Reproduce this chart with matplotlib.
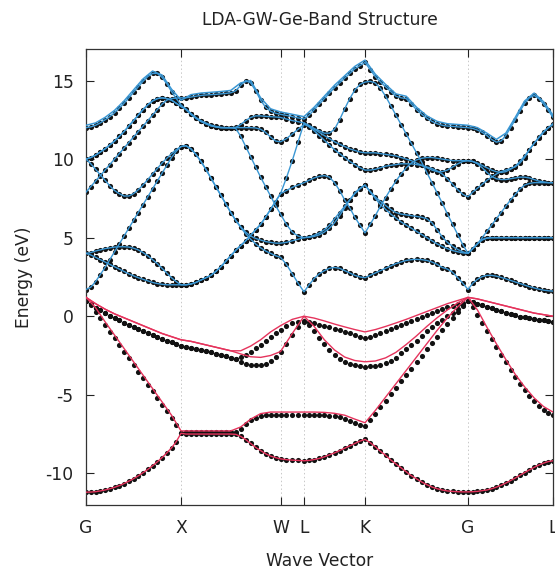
import numpy as np
import matplotlib
matplotlib.use('Agg')
import matplotlib.pyplot as plt

# high-symmetry points along the path and number of k steps per segment
labels = ['G', 'X', 'W', 'L', 'K', 'G', 'L']
kpos = [0.0, 0.95, 1.945, 2.18, 2.79, 3.82, 4.67]
nseg = [20, 20, 4, 12, 20, 18]

k = [0.0]
for a, b, n in zip(kpos[:-1], kpos[1:], nseg):
    k += list(np.linspace(a, b, n + 1)[1:])
k = np.array(k)
kc = k[::2]   # coarser grid used for some GW lines

# ---- LDA valence bands (eV), segments G-X | X-W | W-L | L-K | K-G | G-L ----
v1 = [-11.20, -11.19, -11.17, -11.12, -11.06, -10.98, -10.89, -10.78, -10.65, -10.50, -10.34,
      -10.16, -9.96, -9.75, -9.52, -9.27, -9.00, -8.70, -8.38, -7.98, -7.45,
      -7.50, -7.50, -7.50, -7.50, -7.50, -7.50, -7.50, -7.50, -7.50, -7.50,
      -7.52, -7.65, -7.85, -8.10, -8.35, -8.55, -8.75, -8.90, -9.00, -9.08,
      -9.13, -9.16, -9.18, -9.20,
      -9.18, -9.12, -9.05, -8.95, -8.82, -8.70, -8.55, -8.40, -8.25, -8.10, -7.95, -7.84,
      -8.05, -8.30, -8.60, -8.85, -9.15, -9.40, -9.65, -9.90, -10.15, -10.35,
      -10.55, -10.72, -10.87, -10.98, -11.06, -11.12, -11.15, -11.17, -11.18, -11.18,
      -11.17, -11.15, -11.10, -11.06, -10.98, -10.88, -10.76, -10.62, -10.46,
      -10.30, -10.12, -9.95, -9.78, -9.62, -9.47, -9.35, -9.25, -9.20]
v2 = [0.95, 0.70, 0.30, -0.12, -0.55, -0.98, -1.40, -1.83, -2.25, -2.67, -3.10,
      -3.52, -3.94, -4.36, -4.78, -5.20, -5.62, -6.04, -6.46, -6.90, -7.42,
      -7.38, -7.38, -7.38, -7.38, -7.38, -7.38, -7.38, -7.38, -7.38, -7.38,
      -7.38, -7.15, -6.85, -6.60, -6.45, -6.35, -6.30, -6.28, -6.27, -6.27,
      -6.27, -6.27, -6.28, -6.28,
      -6.28, -6.28, -6.30, -6.30, -6.32, -6.35, -6.42, -6.52, -6.65, -6.80, -6.92, -7.00,
      -6.60, -6.20, -5.78, -5.38, -4.95, -4.55, -4.15, -3.75, -3.33, -2.93,
      -2.53, -2.10, -1.70, -1.30, -0.90, -0.50, -0.12, 0.25, 0.62, 0.95,
      0.60, 0.10, -0.45, -0.95, -1.45, -1.95, -2.45, -2.90, -3.40,
      -3.85, -4.30, -4.70, -5.05, -5.40, -5.70, -5.95, -6.15, -6.28]
v3 = [0.95, 0.75, 0.55, 0.37, 0.20, 0.03, -0.12, -0.27, -0.41, -0.55, -0.68,
      -0.81, -0.93, -1.05, -1.17, -1.30, -1.42, -1.55, -1.67, -1.78, -1.90,
      -1.95, -2.00, -2.07, -2.15, -2.22, -2.30, -2.38, -2.47, -2.56, -2.65,
      -2.74, -2.90, -3.02, -3.10, -3.12, -3.10, -3.02, -2.85, -2.60, -2.30,
      -1.80, -1.20, -0.70, -0.35,
      -0.55, -0.95, -1.40, -1.80, -2.15, -2.45, -2.72, -2.90, -3.03, -3.12, -3.18, -3.22,
      -3.20, -3.17, -3.10, -3.00, -2.85, -2.65, -2.35, -2.10, -1.83, -1.55,
      -1.25, -0.95, -0.70, -0.45, -0.22, 0.00, 0.22, 0.45, 0.70, 0.95,
      0.88, 0.80, 0.70, 0.60, 0.50, 0.41, 0.32, 0.23, 0.14,
      0.06, -0.02, -0.08, -0.13, -0.18, -0.23, -0.27, -0.31, -0.35]
v4 = [0.95, 0.75, 0.55, 0.37, 0.20, 0.03, -0.12, -0.27, -0.41, -0.55, -0.68,
      -0.81, -0.93, -1.05, -1.17, -1.30, -1.42, -1.55, -1.67, -1.78, -1.90,
      -1.95, -2.00, -2.07, -2.15, -2.22, -2.30, -2.38, -2.47, -2.56, -2.65,
      -2.74, -2.62, -2.45, -2.25, -2.05, -1.85, -1.60, -1.35, -1.10, -0.87,
      -0.62, -0.45, -0.36, -0.33,
      -0.38, -0.45, -0.53, -0.62, -0.71, -0.80, -0.90, -1.00, -1.10, -1.20, -1.30, -1.40,
      -1.30, -1.20, -1.08, -0.96, -0.83, -0.70, -0.57, -0.44, -0.30, -0.17,
      -0.04, 0.09, 0.22, 0.34, 0.46, 0.57, 0.67, 0.77, 0.86, 0.95,
      0.88, 0.80, 0.70, 0.60, 0.50, 0.41, 0.32, 0.23, 0.14,
      0.06, -0.02, -0.08, -0.13, -0.18, -0.23, -0.27, -0.31, -0.35]

# ---- GW valence bands (red lines), coarse grid ----
gw2 = [1.20, 0.55, -0.35, -1.20, -2.05, -2.90, -3.75, -4.60, -5.45, -6.30, -7.30,
       -7.30, -7.30, -7.30, -7.30, -7.30, -7.05, -6.55, -6.20, -6.10, -6.10,
       -6.10, -6.10,
       -6.10, -6.12, -6.18, -6.30, -6.55, -6.78,
       -6.00, -5.15, -4.30, -3.45, -2.60, -1.75, -0.90, -0.10, 0.60, 1.20,
       0.40, -0.70, -1.75, -2.75, -3.70, -4.50, -5.20, -5.75, -6.10]
gw3 = [1.20, 0.80, 0.45, 0.15, -0.10, -0.35, -0.60, -0.85, -1.10, -1.30, -1.50,
       -1.60, -1.75, -1.90, -2.05, -2.20, -2.40, -2.58, -2.62, -2.50, -2.25,
       -1.10, 0.00,
       -0.65, -1.50, -2.15, -2.60, -2.82, -2.90,
       -2.85, -2.65, -2.30, -1.80, -1.25, -0.65, -0.10, 0.40, 0.85, 1.20,
       1.10, 0.95, 0.80, 0.65, 0.50, 0.35, 0.20, 0.10, 0.00]
gw4 = [1.20, 0.80, 0.45, 0.15, -0.10, -0.35, -0.60, -0.85, -1.10, -1.30, -1.50,
       -1.60, -1.75, -1.90, -2.05, -2.20, -2.20, -1.90, -1.50, -1.00, -0.60,
       -0.20, 0.00,
       -0.12, -0.30, -0.50, -0.68, -0.85, -1.00,
       -0.85, -0.65, -0.43, -0.20, 0.05, 0.30, 0.55, 0.80, 1.00, 1.20,
       1.10, 0.95, 0.80, 0.65, 0.50, 0.35, 0.20, 0.10, 0.00]

# ---- GW uppermost conduction band (blue line just above the top dots), coarse grid ----
gw_top = [12.15, 12.30, 12.65, 13.10, 13.70, 14.40, 15.10, 15.60, 15.35, 14.45, 13.75,
          14.10, 14.20, 14.25, 14.30, 14.37, 14.85, 15.00, 13.90, 13.20, 13.00,
          12.85, 12.70,
          13.30, 14.00, 14.70, 15.30, 15.90, 16.30,
          15.40, 14.75, 14.15, 14.00, 13.30, 12.75, 12.40, 12.25, 12.20, 12.15,
          12.00, 11.65, 11.25, 11.65, 12.65, 13.70, 14.20, 13.65, 12.80]

# ---- conduction bands (eV) ----
c1 = [1.70, 1.85, 2.20, 2.65, 3.10, 3.60, 4.10, 4.60, 5.10, 5.60, 6.10,
      6.60, 7.10, 7.60, 8.10, 8.60, 9.10, 9.60, 10.10, 10.50, 10.80,
      10.85, 10.65, 10.30, 9.85, 9.35, 8.80, 8.25, 7.70, 7.15, 6.60,
      6.10, 5.65, 5.25, 4.90, 4.60, 4.35, 4.15, 4.00, 3.85, 3.75,
      3.30, 2.70, 2.10, 1.55,
      2.00, 2.40, 2.70, 2.90, 3.05, 3.10, 3.05, 2.90, 2.75, 2.60, 2.50, 2.45,
      2.60, 2.75, 2.90, 3.05, 3.20, 3.35, 3.45, 3.55, 3.60, 3.62,
      3.60, 3.55, 3.45, 3.30, 3.10, 3.00, 2.80, 2.45, 2.10, 1.70,
      2.10, 2.35, 2.52, 2.60, 2.60, 2.55, 2.47, 2.38, 2.28,
      2.18, 2.08, 1.98, 1.88, 1.80, 1.72, 1.66, 1.62, 1.60]
c2 = [4.00, 4.05, 4.15, 4.22, 4.30, 4.35, 4.40, 4.42, 4.42, 4.40, 4.33,
      4.22, 4.05, 3.85, 3.60, 3.35, 3.05, 2.75, 2.45, 2.20, 2.00,
      2.00, 2.05, 2.15, 2.30, 2.45, 2.60, 2.85, 3.15, 3.50, 3.85,
      4.20, 4.50, 4.80, 5.15, 5.50, 5.85, 6.30, 6.80, 7.30, 7.80,
      8.00, 8.20, 8.35, 8.50,
      8.65, 8.80, 8.90, 8.95, 8.85, 8.50, 8.00, 7.40, 6.90, 6.30, 5.80, 5.30,
      5.85, 6.40, 7.00, 7.55, 8.10, 8.60, 9.05, 9.45, 9.75, 9.95,
      10.05, 10.10, 10.10, 10.05, 10.00, 9.95, 9.90, 9.90, 9.90, 9.90,
      9.85, 9.75, 9.60, 9.45, 9.30, 9.20, 9.15, 9.20, 9.35,
      9.55, 9.85, 10.20, 10.60, 11.00, 11.35, 11.70, 12.00, 12.25]
c3 = [4.00, 3.90, 3.75, 3.60, 3.45, 3.30, 3.15, 3.00, 2.85, 2.70, 2.57,
      2.45, 2.35, 2.25, 2.15, 2.08, 2.03, 2.00, 2.00, 2.00, 2.00,
      2.00, 2.05, 2.15, 2.30, 2.45, 2.60, 2.85, 3.15, 3.50, 3.85,
      4.20, 4.50, 4.80, 5.15, 5.50, 5.85, 6.30, 6.80, 7.30, 7.80,
      8.80, 9.90, 11.10, 12.30,
      12.05, 11.80, 11.50, 11.20, 10.90, 10.60, 10.35, 10.10, 9.85, 9.65, 9.45, 9.30,
      9.30, 9.35, 9.45, 9.55, 9.60, 9.65, 9.70, 9.70, 9.70, 9.65,
      9.60, 9.50, 9.40, 9.25, 9.05, 8.75, 8.40, 8.05, 7.75, 7.60,
      7.90, 8.15, 8.40, 8.65, 8.85, 9.05, 9.20, 9.30, 9.40,
      9.50, 9.75, 10.10, 10.60, 11.00, 11.40, 11.75, 12.00, 12.20]
c4 = [7.90, 8.25, 8.60, 8.95, 9.30, 9.65, 10.00, 10.35, 10.70, 11.05, 11.40,
      11.75, 12.10, 12.45, 12.80, 13.15, 13.50, 13.75, 13.85, 13.88, 13.90,
      13.90, 13.95, 14.00, 14.05, 14.08, 14.10, 14.12, 14.15, 14.18, 14.22,
      14.35, 14.70, 15.00, 14.85, 14.35, 13.75, 13.30, 13.05, 12.92, 12.85,
      12.78, 12.70, 12.62, 12.55,
      12.80, 13.15, 13.50, 13.85, 14.20, 14.55, 14.85, 15.15, 15.45, 15.75, 15.95, 16.15,
      15.70, 15.25, 14.90, 14.60, 14.30, 14.00, 13.90, 13.85, 13.50, 13.15,
      12.85, 12.60, 12.40, 12.25, 12.15, 12.10, 12.08, 12.05, 12.02, 12.00,
      11.95, 11.85, 11.70, 11.50, 11.25, 11.08, 11.15, 11.50, 12.00,
      12.50, 13.05, 13.55, 13.90, 14.05, 13.85, 13.50, 13.10, 12.65]
c5 = [12.00, 12.05, 12.15, 12.30, 12.50, 12.70, 12.95, 13.25, 13.55, 13.90, 14.25,
      14.60, 14.95, 15.25, 15.45, 15.45, 15.20, 14.80, 14.30, 13.85, 13.45,
      13.15, 12.85, 12.60, 12.40, 12.25, 12.12, 12.05, 12.00, 12.00, 12.00,
      12.00, 12.00, 12.00, 12.00, 11.98, 11.90, 11.70, 11.40, 11.15, 11.10,
      11.30, 11.60, 11.90, 12.20,
      12.10, 11.90, 11.70, 11.50, 11.30, 11.10, 10.95, 10.80, 10.65, 10.55, 10.45, 10.40,
      10.40, 10.40, 10.35, 10.30, 10.25, 10.20, 10.10, 10.00, 9.90, 9.75,
      9.60, 9.45, 9.30, 9.20, 9.20, 9.30, 9.50, 9.70, 9.85, 9.90,
      9.85, 9.70, 9.45, 9.15, 8.90, 8.75, 8.70, 8.70, 8.75,
      8.80, 8.85, 8.85, 8.80, 8.70, 8.60, 8.55, 8.50, 8.50]
c6 = [10.00, 10.10, 10.25, 10.45, 10.65, 10.90, 11.15, 11.45, 11.75, 12.10, 12.45,
      12.80, 13.15, 13.45, 13.70, 13.85, 13.90, 13.85, 13.75, 13.55, 13.35,
      13.20, 12.90, 12.65, 12.45, 12.30, 12.17, 12.08, 12.02, 12.00, 12.00,
      11.95, 11.45, 10.80, 10.15, 9.50, 8.85, 8.25, 7.65, 7.05, 6.50,
      5.85, 5.35, 5.10, 5.00,
      5.02, 5.08, 5.18, 5.35, 5.60, 5.95, 6.40, 6.90, 7.40, 7.85, 8.15, 8.35,
      7.95, 7.60, 7.30, 7.05, 6.80, 6.60, 6.50, 6.45, 6.40, 6.35,
      6.30, 6.20, 5.95, 5.50, 5.05, 4.70, 4.45, 4.25, 4.10, 4.00,
      4.30, 4.62, 4.88, 4.98, 5.00, 5.00, 5.00, 5.00, 5.00,
      5.00, 5.00, 5.00, 5.00, 5.00, 5.00, 5.00, 5.00, 5.00]
c7 = [10.00, 9.70, 9.35, 9.00, 8.65, 8.30, 8.00, 7.80, 7.65, 7.65, 7.80,
      8.05, 8.35, 8.70, 9.05, 9.40, 9.75, 10.05, 10.35, 10.60, 10.80,
      10.85, 10.65, 10.30, 9.85, 9.35, 8.80, 8.25, 7.70, 7.15, 6.60,
      6.10, 5.70, 5.35, 5.10, 4.95, 4.85, 4.75, 4.70, 4.65, 4.65,
      4.70, 4.80, 4.90, 5.00,
      5.05, 5.15, 5.30, 5.50, 5.80, 6.20, 6.60, 7.00, 7.40, 7.80, 8.10, 8.35,
      7.90, 7.50, 7.10, 6.80, 6.50, 6.25, 6.00, 5.80, 5.60, 5.40,
      5.20, 5.00, 4.80, 4.60, 4.45, 4.30, 4.18, 4.10, 4.03, 4.00,
      4.30, 4.60, 4.85, 4.97, 5.00, 5.00, 5.00, 5.00, 5.00,
      5.00, 5.00, 5.00, 5.00, 5.00, 5.00, 5.00, 5.00, 5.00]
c8 = [10.00, 10.10, 10.25, 10.45, 10.65, 10.90, 11.15, 11.45, 11.75, 12.10, 12.45,
      12.80, 13.15, 13.45, 13.70, 13.85, 13.90, 13.85, 13.75, 13.55, 13.35,
      13.15, 12.85, 12.60, 12.40, 12.25, 12.12, 12.05, 12.00, 12.00, 12.00,
      12.02, 12.20, 12.45, 12.65, 12.75, 12.75, 12.72, 12.70, 12.68, 12.65,
      12.55, 12.45, 12.38, 12.30,
      12.15, 11.95, 11.80, 11.65, 11.65, 11.90, 12.50, 13.20, 13.85, 14.40, 14.75, 14.90,
      14.95, 14.85, 14.50, 14.00, 13.40, 12.80, 12.20, 11.60, 11.00, 10.40,
      9.80, 9.15, 8.50, 7.85, 7.20, 6.50, 5.85, 5.20, 4.55, 4.00,
      4.30, 4.60, 5.00, 5.40, 5.80, 6.20, 6.60, 7.00, 7.40,
      7.75, 8.10, 8.35, 8.45, 8.50, 8.50, 8.50, 8.50, 8.50]

valence = [v1, v2, v3, v4]
gw_valence = [gw2, gw3, gw4]
conduction = [c1, c2, c3, c4, c5, c6, c7, c8]

blue = '#3a97d4'
red = '#e5335c'

plt.rcParams['font.family'] = ['DejaVu Sans']
plt.rcParams['axes.unicode_minus'] = False
fig, ax = plt.subplots(figsize=(5.55, 5.71), dpi=100)
fig.subplots_adjust(left=0.155, right=0.9964, top=0.914, bottom=0.116)

for kp in kpos[1:-1]:
    ax.axvline(kp, color='#c8c8c8', linestyle=(0, (1.5, 2.5)), linewidth=0.7, zorder=0)

# GW lines
for b in conduction:
    ax.plot(k, b, '-', color=blue, linewidth=1.0, zorder=3)
ax.plot(kc, gw_top, '-', color=blue, linewidth=1.1, zorder=3)
ax.plot(k, v1, '-', color=red, linewidth=1.0, zorder=3)
for b in gw_valence:
    ax.plot(kc, b, '-', color=red, linewidth=1.0, zorder=3)

# LDA points
for b in valence + conduction:
    ax.plot(k, b, 'o', color='#111111', markersize=3.7, markeredgewidth=0, zorder=2)

ax.set_xlim(kpos[0], kpos[-1])
ax.set_ylim(-12, 17)
ax.set_xticks(kpos)
ax.set_xticklabels(labels)
ax.set_yticks([-10, -5, 0, 5, 10, 15])
ax.tick_params(direction='in', top=True, right=True, length=6, width=0.8,
               labelsize=12.3, colors='#222222')
ax.tick_params(axis='x', pad=10)
ax.tick_params(axis='y', pad=9)
for s in ax.spines.values():
    s.set_linewidth(0.9)
    s.set_color('#333333')

ax.set_title('LDA-GW-Ge-Band Structure', fontsize=12.3, pad=17, color='#222222')
ax.set_xlabel('Wave Vector', fontsize=12.3, labelpad=11, color='#222222')
ax.set_ylabel('Energy (eV)', fontsize=12.3, labelpad=9, color='#222222')

fig.savefig('out.png', dpi=100)
